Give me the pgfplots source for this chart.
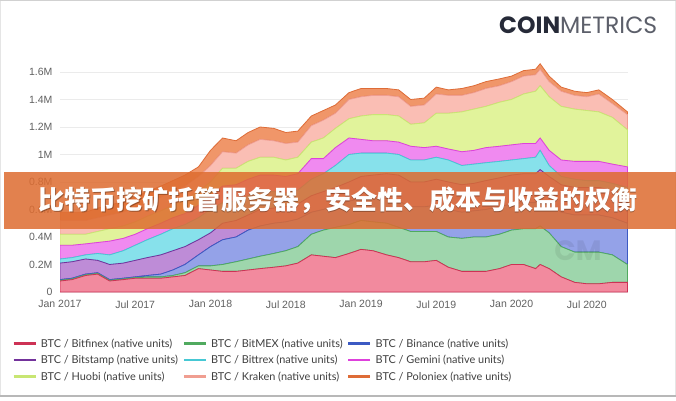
\documentclass[border=0pt]{standalone}
\usepackage{pgfplots}
\pgfplotsset{compat=1.18}
\usepackage{pgfplotstable}
\usepackage{fontspec}
\setmainfont{Liberation Sans}
\newfontfamily\lato{Lato}
\newfontfamily\popp{Poppins}
\newfontfamily\cjk{Noto Sans CJK SC}

% line / fill colours of the nine exchanges
\definecolor{bfxL}{RGB}{205,50,85}   \definecolor{bfxF}{RGB}{242,138,158}
\definecolor{bmxL}{RGB}{80,170,95}   \definecolor{bmxF}{RGB}{158,214,172}
\definecolor{bnbL}{RGB}{60,90,195}   \definecolor{bnbF}{RGB}{148,162,232}
\definecolor{bstL}{RGB}{115,50,155}  \definecolor{bstF}{RGB}{190,140,215}
\definecolor{btxL}{RGB}{70,200,212}  \definecolor{btxF}{RGB}{135,225,235}
\definecolor{gemL}{RGB}{222,65,220}  \definecolor{gemF}{RGB}{240,138,240}
\definecolor{hbL}{RGB}{200,230,115}  \definecolor{hbF}{RGB}{225,243,155}
\definecolor{krL}{RGB}{240,158,145}  \definecolor{krF}{RGB}{250,190,180}
\definecolor{polL}{RGB}{222,108,55}  \definecolor{polF}{RGB}{240,150,105}
\definecolor{banner}{RGB}{222,108,48}
\definecolor{navy}{RGB}{38,42,56}

% BTC held on exchanges, millions, one column per exchange (stacked)
\pgfplotstableread{
t       bfx  bmx   bnb   bst  btx  gem  hb   kr   pol
2017.00 0.08 0.005 0.005 0.12 0.03 0.10 0.08 0.10 0.06
2017.08 0.09 0.005 0.005 0.12 0.03 0.09 0.08 0.10 0.06
2017.17 0.12 0.005 0.005 0.11 0.03 0.08 0.07 0.10 0.06
2017.25 0.13 0.005 0.005 0.09 0.05 0.08 0.08 0.10 0.07
2017.33 0.08 0.005 0.005 0.11 0.07 0.10 0.09 0.10 0.07
2017.42 0.09 0.005 0.005 0.11 0.09 0.09 0.09 0.10 0.08
2017.50 0.10 0.005 0.005 0.12 0.11 0.08 0.09 0.10 0.08
2017.58 0.10 0.01  0.01  0.13 0.13 0.08 0.09 0.10 0.08
2017.67 0.10 0.01  0.02  0.14 0.15 0.08 0.09 0.10 0.08
2017.75 0.11 0.01  0.04  0.14 0.16 0.08 0.09 0.10 0.08
2017.83 0.12 0.02  0.06  0.13 0.16 0.08 0.10 0.10 0.08
2017.92 0.17 0.02  0.08  0.11 0.16 0.09 0.10 0.11 0.07
2018.00 0.16 0.03  0.14  0.10 0.17 0.10 0.10 0.12 0.11
2018.08 0.15 0.05  0.18  0.12 0.15 0.12 0.13 0.12 0.10
2018.17 0.15 0.07  0.18  0.12 0.14 0.12 0.12 0.11 0.09
2018.25 0.16 0.08  0.21  0.11 0.14 0.12 0.13 0.12 0.09
2018.33 0.17 0.09  0.22  0.12 0.13 0.12 0.13 0.13 0.09
2018.42 0.18 0.10  0.22  0.11 0.12 0.12 0.13 0.12 0.09
2018.50 0.19 0.11  0.21  0.11 0.10 0.12 0.12 0.12 0.08
2018.58 0.21 0.12  0.20  0.11 0.10 0.12 0.12 0.11 0.08
2018.67 0.27 0.15  0.16  0.12 0.12 0.15 0.12 0.12 0.07
2018.75 0.26 0.19  0.15  0.13 0.13 0.11 0.15 0.13 0.07
2018.83 0.25 0.22  0.16  0.13 0.16 0.13 0.14 0.11 0.06
2018.92 0.28 0.21  0.17  0.14 0.20 0.12 0.14 0.14 0.05
2019.00 0.31 0.21  0.16  0.16 0.17 0.10 0.17 0.14 0.06
2019.08 0.30 0.21  0.17  0.17 0.16 0.09 0.19 0.14 0.05
2019.17 0.27 0.23  0.18  0.18 0.15 0.09 0.19 0.14 0.05
2019.25 0.25 0.22  0.19  0.19 0.15 0.09 0.19 0.14 0.05
2019.33 0.22 0.22  0.18  0.18 0.16 0.10 0.16 0.13 0.05
2019.42 0.22 0.22  0.18  0.18 0.16 0.09 0.18 0.13 0.05
2019.50 0.23 0.21  0.19  0.19 0.16 0.08 0.24 0.14 0.05
2019.58 0.18 0.22  0.20  0.20 0.16 0.08 0.26 0.13 0.04
2019.67 0.15 0.24  0.19  0.20 0.14 0.10 0.29 0.12 0.05
2019.75 0.15 0.25  0.19  0.20 0.14 0.10 0.30 0.12 0.05
2019.83 0.15 0.25  0.20  0.21 0.13 0.11 0.30 0.13 0.05
2019.92 0.17 0.25  0.20  0.21 0.12 0.11 0.32 0.12 0.05
2020.00 0.20 0.25  0.19  0.21 0.11 0.11 0.33 0.13 0.04
2020.08 0.20 0.26  0.19  0.21 0.11 0.11 0.36 0.13 0.04
2020.16 0.17 0.29  0.19  0.21 0.12 0.10 0.38 0.12 0.04
2020.19 0.20 0.28  0.20  0.21 0.14 0.09 0.38 0.12 0.04
2020.25 0.17 0.26  0.21  0.20 0.08 0.11 0.39 0.11 0.04
2020.33 0.11 0.22  0.25  0.20 0.06 0.12 0.39 0.11 0.03
2020.42 0.07 0.22  0.27  0.20 0.06 0.13 0.38 0.10 0.03
2020.50 0.06 0.23  0.27  0.20 0.05 0.14 0.37 0.10 0.03
2020.58 0.06 0.23  0.27  0.20 0.05 0.14 0.36 0.13 0.03
2020.67 0.07 0.20  0.27  0.20 0.05 0.14 0.34 0.10 0.03
2020.77 0.07 0.13  0.30  0.21 0.05 0.15 0.27 0.11 0.02
}\exch

\begin{document}
\begin{tikzpicture}[x=1bp,y=1bp]
\useasboundingbox (0,0) rectangle (676,400);
\fill[white] (0,0) rectangle (676,400);
% frame of the card
\fill[black!18] (0,398.5) rectangle (676,400);
\fill[black!28] (0,3) rectangle (676,5.5);
\draw[black!10, line width=0.8bp] (0.4,5.5) -- (0.4,398.5) (675.6,5.5) -- (675.6,398.5);

\begin{axis}[
    at={(60bp,108bp)}, anchor=south west,
    width=568bp, height=233.75bp, scale only axis,
    xmin=2017, xmax=2020.774, ymin=0, ymax=1.7,
    stack plots=y,
    axis line style={draw=none},
    major tick length=0pt,
    ymajorgrids, grid style={draw=black!8, line width=0.6bp},
    ytick={0,0.2,0.4,0.6,0.8,1.0,1.2,1.4,1.6},
    yticklabels={0,0.2M,0.4M,0.6M,0.8M,1M,1.2M,1.4M,1.6M},
    xtick={2017,2017.5,2018,2018.5,2019,2019.5,2020,2020.5},
    xticklabels={Jan 2017,Jul 2017,Jan 2018,Jul 2018,Jan 2019,Jul 2019,Jan 2020,Jul 2020},
    tick label style={font=\fontsize{10.5bp}{12bp}\selectfont, text=black!62},
    yticklabel style={xshift=-4bp},
    xticklabel style={yshift=-5bp},
    legend columns=3,
    legend cell align=left,
    legend image code/.code={\draw[line width=2.6bp] (0bp,0bp) -- (22bp,0bp);},
    legend style={at={(-0.0845,-0.19)}, anchor=north west, draw=none, fill=none,
        font=\lato\fontsize{10.9bp}{12bp}\selectfont, text=black!75,
        inner sep=0pt, row sep=2.6bp,
        /tikz/every odd column/.append style={column sep=2bp},
        /tikz/every even column/.append style={column sep=2.5bp}},
    every axis plot/.append style={line width=0.8bp},
]
\addplot[draw=bfxL, fill=bfxF] table[x=t,y=bfx]{\exch} \closedcycle;
\addplot[draw=bmxL, fill=bmxF] table[x=t,y=bmx]{\exch} \closedcycle;
\addplot[draw=bnbL, fill=bnbF] table[x=t,y=bnb]{\exch} \closedcycle;
\addplot[draw=bstL, fill=bstF] table[x=t,y=bst]{\exch} \closedcycle;
\addplot[draw=btxL, fill=btxF] table[x=t,y=btx]{\exch} \closedcycle;
\addplot[draw=gemL, fill=gemF] table[x=t,y=gem]{\exch} \closedcycle;
\addplot[draw=hbL,  fill=hbF]  table[x=t,y=hb]{\exch}  \closedcycle;
\addplot[draw=krL,  fill=krF]  table[x=t,y=kr]{\exch}  \closedcycle;
\addplot[draw=polL, fill=polF] table[x=t,y=pol]{\exch} \closedcycle;
\legend{BTC / Bitfinex (native units), BTC / BitMEX (native units), BTC / Binance (native units),
        BTC / Bitstamp (native units), BTC / Bittrex (native units), BTC / Gemini (native units),
        BTC / Huobi (native units), BTC / Kraken (native units), BTC / Poloniex (native units)}
\end{axis}

% faint watermark
\node[text=black, opacity=0.07, font=\popp\bfseries\fontsize{28bp}{30bp}\selectfont] at (578,149) {CM};

% logo
\node[anchor=base west, inner sep=0pt, font=\popp\fontsize{23.5bp}{25bp}\selectfont]
  at (499,367) {\textcolor{navy}{\bfseries COIN}\textcolor{navy!75}{METRICS}};

% title banner over the plot
\fill[banner, opacity=0.85] (4,171) rectangle (676,228);
\node[text=black, opacity=0.3, font=\cjk\bfseries\fontsize{26bp}{28bp}\selectfont] at (338.8,198.6)
  {比特币挖矿托管服务器，安全性、成本与收益的权衡};
\node[text=white, font=\cjk\bfseries\fontsize{26bp}{28bp}\selectfont] at (338,199.5)
  {比特币挖矿托管服务器，安全性、成本与收益的权衡};
\end{tikzpicture}
\end{document}
